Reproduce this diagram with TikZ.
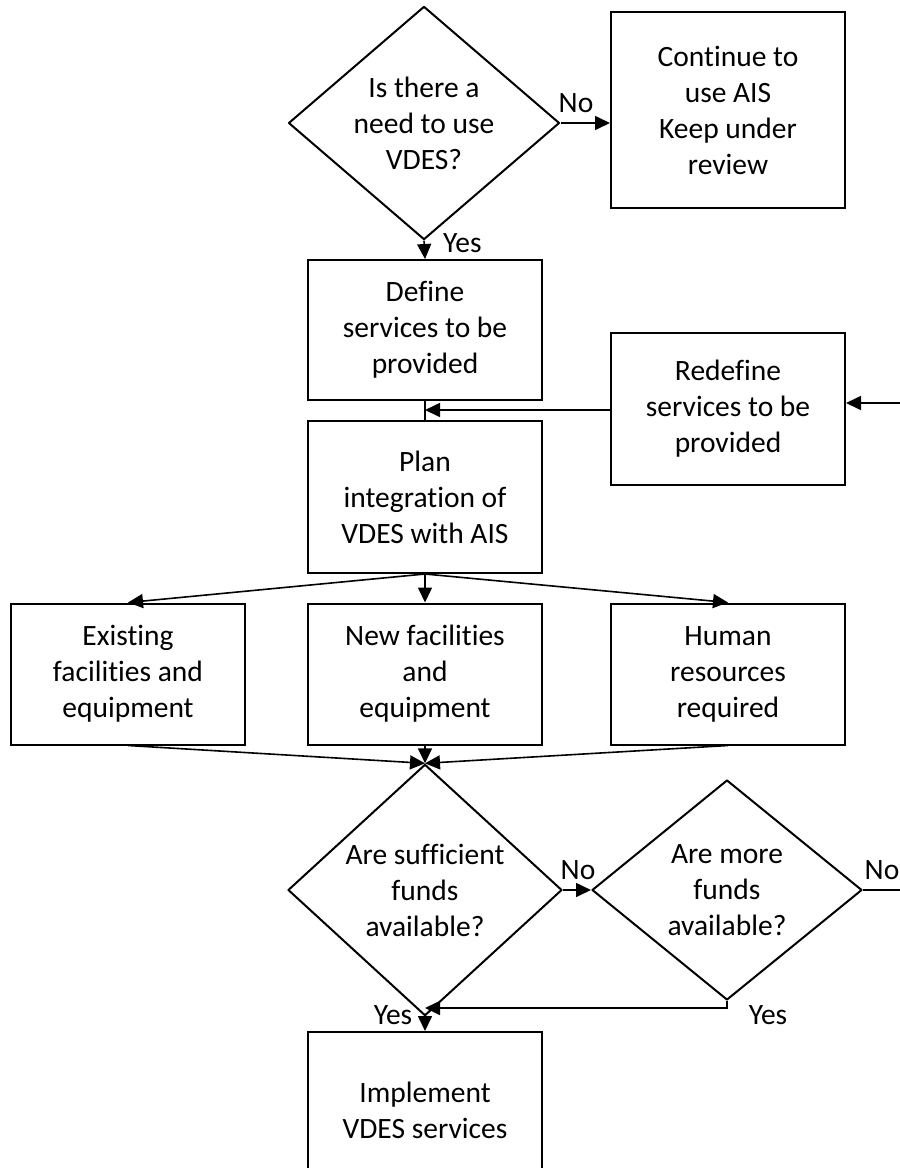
\documentclass[tikz,border=0pt]{standalone}
\usepackage{fontspec}
\setmainfont{Carlito}[Ligatures=NoCommon,RawFeature={-liga;-calt;-clig;-dlig}]
\usetikzlibrary{shapes.geometric,arrows.meta}

\tikzset{
  flowtext/.style={font=\fontsize{29.5}{36}\selectfont, align=center},
  procbox/.style={draw, line width=2pt, flowtext, minimum width=234pt, inner sep=0pt},
  decide/.style={draw, diamond, line width=2pt, line join=round, flowtext, inner sep=0pt, minimum width=271pt, minimum height=219pt},
  flow/.style={line width=1.6pt, -{Triangle[length=15pt,width=14pt]}},
  tag/.style={font=\fontsize{29.5}{36}\selectfont, inner sep=0pt}
}

\begin{document}
\begin{tikzpicture}[x=1pt,y=-1pt]
\useasboundingbox (0,0) rectangle (900,1168);
% top decision
\node[decide] (needvdes) at (424,123) {Is there a\\need to use\\VDES?};
\node[procbox, minimum height=196pt] (keepais) at (728,110) {Continue to\\use AIS\\Keep under\\review};
\node[procbox, minimum height=140pt] (define) at (425,330) {Define\\services to be\\provided};
\node[procbox, minimum height=152pt] (redefine) at (728,409) {Redefine\\services to be\\provided};
\node[procbox, minimum height=152pt] (plan) at (425,497) {Plan\\integration of\\VDES with AIS};
% three resources
\node[procbox, minimum height=141pt] (existing) at (128,674) {Existing\\facilities and\\equipment};
\node[procbox, minimum height=141pt] (newfac) at (425,674) {New facilities\\and\\equipment};
\node[procbox, minimum height=141pt] (human) at (728,674) {Human\\resources\\required};
% funding decisions
\node[decide, minimum width=274pt, minimum height=216pt] (funds) at (425,890) {Are sufficient\\funds\\available?};
\node[decide, minimum width=270pt, minimum height=220pt] (morefunds) at (727,890) {Are more\\funds\\available?};
\node[procbox, minimum height=156pt] (implement) at (425,1110) {Implement\\VDES services};

\coordinate (redefin) at (900,403);
\coordinate (nomore) at (900,890);
\coordinate (joinplan) at (425,410);
\coordinate (joinimpl) at (425,1008);

\draw[flow] (needvdes.east) -- (keepais.west |- needvdes.east);
\draw[flow] (needvdes.south) -- (define.north);
\draw[line width=1.6pt] (define.south) -- (plan.north);
\draw[flow] (redefin) -- (redefin -| redefine.east);
\draw[flow] (redefine.west |- joinplan) -- (joinplan);
\draw[flow] (plan.south) -- (existing.north);
\draw[flow] (plan.south) -- (newfac.north);
\draw[flow] (plan.south) -- (human.north);
\draw[flow] (existing.south) -- (funds.north);
\draw[flow] (newfac.south) -- (funds.north);
\draw[flow] (human.south) -- (funds.north);
\draw[flow] (funds.east) -- (morefunds.west);
\draw[line width=1.6pt] (morefunds.east) -- (nomore);
\draw[flow] (morefunds.south) |- (joinimpl);
\draw[flow] (funds.south) -- (implement.north);

% answer labels
\node[tag, anchor=west] (yes1) at (443,243) {Yes};
\node[tag] (no1) at (576,103) {No};
\node[tag] (no2) at (578,870) {No};
\node[tag] (no3) at (882,870) {No};
\node[tag] (yes2) at (393,1015) {Yes};
\node[tag] (yes3) at (768,1015) {Yes};
\end{tikzpicture}
\end{document}
